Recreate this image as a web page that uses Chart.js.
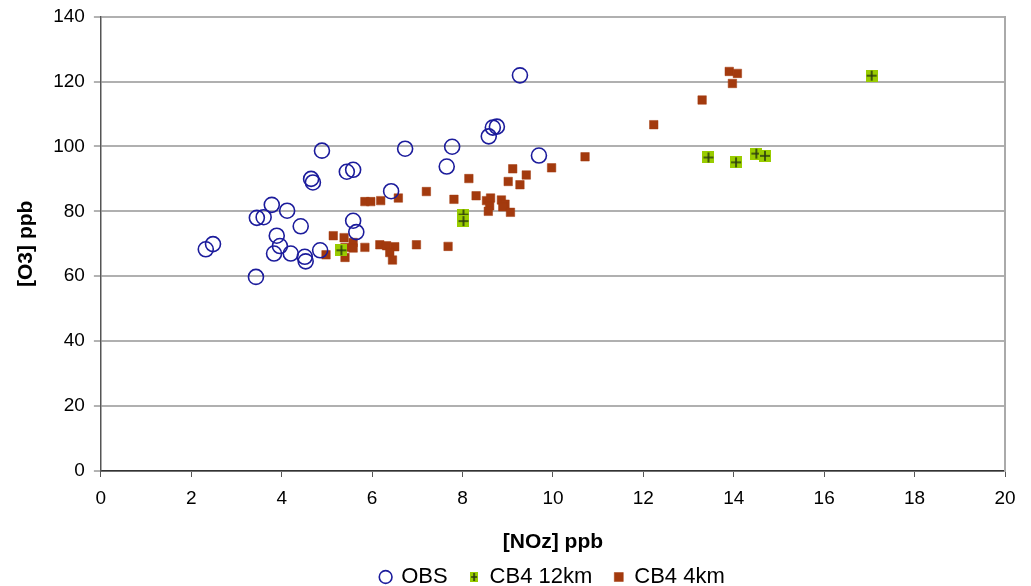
<!DOCTYPE html>
<html>
<head>
<meta charset="utf-8">
<script src="https://cdn.jsdelivr.net/npm/chart.js@4/dist/chart.umd.min.js"></script>
<style>
html,body{margin:0;padding:0;background:#fff;}
#wrap{width:1031px;height:586px;position:relative;}
</style>
</head>
<body>
<div id="wrap"><canvas id="c"></canvas></div>
<script>
const obsX = [2.32,2.48,3.43,3.45,3.60,3.78,3.89,3.96,3.83,4.12,4.20,4.42,4.51,4.53,4.65,4.69,4.89,4.85,5.44,5.58,5.58,5.65,6.42,6.73,7.65,7.77,8.58,8.67,8.76,9.27,9.69];
const obsY = [68.3,69.9,59.8,78.0,78.2,82.0,72.5,69.3,67.0,80.2,67.0,75.4,66.0,64.6,90.0,88.9,98.7,68.0,92.2,92.8,77.1,73.6,86.2,99.3,93.8,99.9,103.1,105.8,106.1,121.9,97.2];

const cb12X = [5.32,8.02,8.02,13.44,14.05,14.50,14.69,17.05];
const cb12Y = [68.0,79.0,77.0,96.6,95.1,97.8,97.1,121.8];

const cb4X = [4.98,5.14,5.38,5.40,5.40,5.58,5.58,5.84,5.84,5.97,6.19,6.17,6.32,6.50,6.39,6.45,6.58,6.98,7.20,7.68,7.81,8.14,8.30,8.53,8.62,8.60,8.57,8.86,8.94,8.89,9.06,9.01,9.11,9.27,9.41,9.97,10.71,12.23,13.30,13.90,14.08,13.97];
const cb4Y = [66.6,72.5,71.9,68.9,65.8,70.4,68.7,68.9,83.0,83.0,83.3,69.7,69.4,69.1,67.3,65.0,84.1,69.7,86.1,69.2,83.7,90.1,84.8,83.3,84.1,81.7,80.0,83.5,82.2,81.4,79.7,89.2,93.1,88.2,91.2,93.4,96.8,106.7,114.3,123.1,122.5,119.4];

const xTicks = [0,2,4,6,8,10,12,14,16,18,20];
const yTicks = [0,20,40,60,80,100,120,140];

function pts(xs, ys){ return xs.map((x,i)=>({x:x, y:ys[i]})); }

// green square with dark plus marker
function makePlus(w, h){
  const c = document.createElement('canvas');
  c.width = w; c.height = h;
  const g = c.getContext('2d');
  g.fillStyle = '#99cc00';
  g.fillRect(0,0,w,h);
  g.strokeStyle = '#2a3a10';
  g.lineWidth = 1.6;
  g.beginPath();
  g.moveTo(w/2, 1); g.lineTo(w/2, h-1);
  g.moveTo(1, h/2); g.lineTo(w-1, h/2);
  g.stroke();
  return c;
}
const plusImg = makePlus(12, 12);
const plusLegend = makePlus(8, 10);

const FONT = "'Liberation Sans', Arial, sans-serif";

new Chart(document.getElementById('c'), {
  type: 'scatter',
  data: {
    datasets: [
      { label: 'OBS', data: pts(obsX, obsY), pointStyle: 'circle', pointRadius: 7.5,
        borderColor: '#1c1c9c', backgroundColor: 'rgba(0,0,0,0)', borderWidth: 1.6, pointHoverRadius: 7.5 },
      { label: 'CB4 12km', data: pts(cb12X, cb12Y), pointStyle: plusImg, pointRadius: 6,
        borderColor: '#99cc00', backgroundColor: '#99cc00' },
      { label: 'CB4 4km', data: pts(cb4X, cb4Y), pointStyle: 'rect', pointRadius: 6,
        borderColor: '#a33a0e', backgroundColor: '#a33a0e', borderWidth: 0.5 }
    ]
  },
  options: {
    responsive: true,
    maintainAspectRatio: false,
    animation: false,
    layout: { padding: { left: 10, right: 26, top: 0, bottom: -12 } },
    plugins: {
      tooltip: { enabled: false },
      legend: {
        position: 'bottom',
        fullSize: false,
        labels: {
          usePointStyle: true,
          boxWidth: 9, boxHeight: 9,
          padding: 22,
          color: '#000',
          font: { family: FONT, size: 22 },
          generateLabels: (chart) => {
            const base = Chart.defaults.plugins.legend.labels.generateLabels(chart);
            base[1].pointStyle = plusLegend;
            base[2].pointStyle = 'rect';
            return base;
          }
        }
      }
    },
    scales: {
      x: {
        type: 'linear', min: 0, max: 20,
        afterBuildTicks: (s) => { s.ticks = xTicks.map(v => ({value: v})); },
        ticks: { color: '#000', font: { family: FONT, size: 19 }, padding: 10, maxRotation: 0 },
        grid: { drawOnChartArea: false, drawTicks: true, tickLength: 6, color: '#555', lineWidth: 1 },
        border: { color: '#333', width: 1.5 },
        title: { display: true, text: '[NOz] ppb', color: '#000', font: { family: FONT, size: 21, weight: 'bold' }, padding: { top: 9.6, bottom: -10.6 } }
      },
      y: {
        type: 'linear', min: 0, max: 140,
        afterBuildTicks: (s) => { s.ticks = yTicks.map(v => ({value: v})); },
        ticks: { color: '#000', font: { family: FONT, size: 19, lineHeight: 0.8 }, padding: 9 },
        grid: { color: '#b0b0b0', lineWidth: 2, drawTicks: true, tickLength: 7, tickColor: '#666', tickWidth: 1 },
        border: { color: '#555', width: 1.5 },
        title: { display: true, text: '[O3] ppb', color: '#000', font: { family: FONT, size: 21, weight: 'bold' }, padding: { top: 4, bottom: 5 } }
      },
      y2: {
        type: 'linear', position: 'right', min: 0, max: 140,
        ticks: { display: false },
        grid: { drawOnChartArea: false, drawTicks: false },
        border: { color: '#aaa', width: 2 }
      }
    }
  }
});
</script>
</body>
</html>
